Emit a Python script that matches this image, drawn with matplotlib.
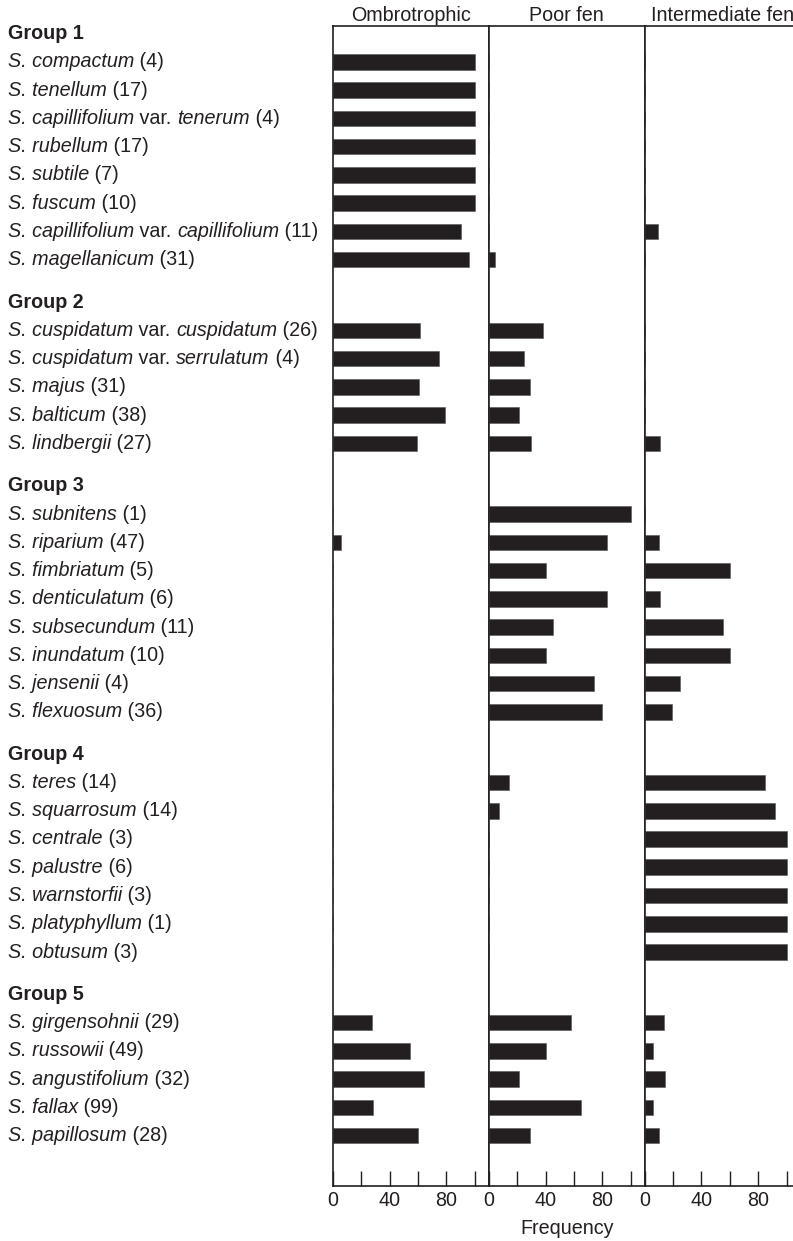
import numpy as np
import matplotlib
matplotlib.use("Agg")
import matplotlib.pyplot as plt
from matplotlib.transforms import blended_transform_factory

plt.rcParams["font.family"] = ["Liberation Sans", "DejaVu Sans"]

INK = "#231f20"
FS = 14.2

# species per group, sample sizes and frequency (%) in each mire type
group_names = ["Group 1", "Group 2", "Group 3", "Group 4", "Group 5"]
group_sizes = [8, 5, 8, 7, 5]

species = [
    "S. compactum", "S. tenellum", "S. capillifolium var. tenerum", "S. rubellum",
    "S. subtile", "S. fuscum", "S. capillifolium var. capillifolium", "S. magellanicum",
    "S. cuspidatum var. cuspidatum", "S. cuspidatum var. serrulatum", "S. majus",
    "S. balticum", "S. lindbergii",
    "S. subnitens", "S. riparium", "S. fimbriatum", "S. denticulatum",
    "S. subsecundum", "S. inundatum", "S. jensenii", "S. flexuosum",
    "S. teres", "S. squarrosum", "S. centrale", "S. palustre",
    "S. warnstorfii", "S. platyphyllum", "S. obtusum",
    "S. girgensohnii", "S. russowii", "S. angustifolium", "S. fallax", "S. papillosum",
]
n_samples = [4, 17, 4, 17, 7, 10, 11, 31,
             26, 4, 31, 38, 27,
             1, 47, 5, 6, 11, 10, 4, 36,
             14, 14, 3, 6, 3, 1, 3,
             29, 49, 32, 99, 28]

ombrotrophic = [100, 100, 100, 100, 100, 100, 90.5, 96,
                61.5, 75, 61, 79, 59.5,
                0, 5.5, 0, 0, 0, 0, 0, 0,
                0, 0, 0, 0, 0, 0, 0,
                27.5, 54, 64.5, 28, 60]
poor_fen = [0, 0, 0, 0, 0, 0, 0, 4,
            38, 25, 29, 21, 29.5,
            100, 83.5, 40, 83.5, 45, 40, 74.5, 80,
            14, 7, 0, 0, 0, 0, 0,
            58, 40.5, 21, 65, 29]
intermediate_fen = [0, 0, 0, 0, 0, 0, 9, 0,
                    0, 0, 0, 0, 10.5,
                    0, 10, 60, 11, 55, 60, 25, 19.5,
                    84.5, 92, 100, 100, 100, 100, 100,
                    13.5, 6, 14, 6, 10]

panel_titles = ["Ombrotrophic", "Poor fen", "Intermediate fen"]
panel_values = [ombrotrophic, poor_fen, intermediate_fen]


def label_pieces(name, n):
    # (text, italic) pieces; "var." and the sample size stay upright
    parts = name.split(" var. ")
    pieces = [(parts[0], True)]
    if len(parts) > 1:
        pieces += [(" var. ", False), (parts[1], True)]
    pieces.append((f" ({n})", False))
    return pieces


# row positions: header, then species; extra half row before each new group
header_y = []
row_y = []
y = 0.27
for gi, size in enumerate(group_sizes):
    if gi > 0:
        y += 1.5
    header_y.append(y)
    for _ in range(size):
        y += 1
        row_y.append(y)
row_y = np.array(row_y)

W, H = 793, 1241
fig = plt.figure(figsize=(W / 100, H / 100), dpi=100)
renderer = fig.canvas.get_renderer()

ax_left, ax_w = 333, 155.9
ax_top, ax_bot = 26, 1186
axes = []
for i in range(3):
    ax = fig.add_axes([(ax_left + i * ax_w) / W, 1 - ax_bot / H, ax_w / W, (ax_bot - ax_top) / H])
    ax.barh(row_y, panel_values[i], height=0.55, color=INK, edgecolor="#555555", linewidth=0.4)
    ax.set_xlim(0, 110)
    ax.set_ylim(41.05, 0)
    ax.set_yticks([])
    ax.set_xticks(np.arange(0, 101, 20))
    ax.set_xticklabels(["0", "", "40", "", "80", ""])
    ax.tick_params(axis="x", direction="in", length=10.8, width=1.0, color=INK,
                   labelsize=FS, labelcolor=INK, pad=3.5)
    for s in ax.spines.values():
        s.set_color(INK)
        s.set_linewidth(1.2)
    ax.set_title(panel_titles[i], fontsize=FS, color=INK, pad=3.8)
    axes.append(ax)

# row labels on the left, built piece by piece for the italic names
lab_ax = axes[0]
trans = blended_transform_factory(fig.transFigure, lab_ax.transData)


def text_width(s, italic):
    t = fig.text(0, 0, s.replace(" ", "\u00a0"), fontsize=FS,
                 fontstyle="italic" if italic else "normal")
    w = t.get_window_extent(renderer).width
    t.remove()
    return w


for gname, gy in zip(group_names, header_y):
    lab_ax.text(8 / W, gy, gname, transform=trans, fontsize=FS, fontweight="bold",
                color=INK, ha="left", va="center")
for name, n, ry in zip(species, n_samples, row_y):
    x = 8.0
    for s, italic in label_pieces(name, n):
        lab_ax.text(x / W, ry, s.replace(" ", "\u00a0"), transform=trans, fontsize=FS,
                    fontstyle="italic" if italic else "normal",
                    color=INK, ha="left", va="center")
        x += text_width(s, italic)

fig.text((ax_left + 1.5 * ax_w) / W, 1 - 1229 / H, "Frequency", fontsize=FS,
         color=INK, ha="center", va="center")

fig.savefig("out.png", dpi=100)
